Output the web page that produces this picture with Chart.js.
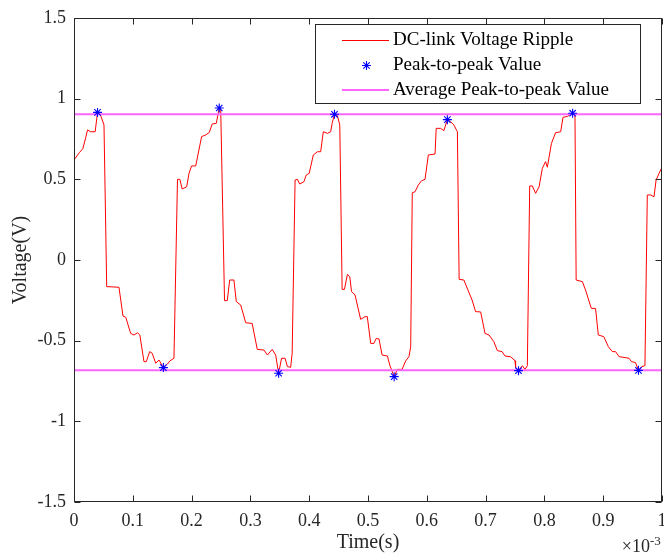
<!DOCTYPE html>
<html>
<head>
<meta charset="utf-8">
<script src="https://cdn.jsdelivr.net/npm/chart.js@4.4.1/dist/chart.umd.min.js"></script>
<style>
  html, body { margin: 0; padding: 0; background: #ffffff; }
  #wrap { width: 664px; height: 553px; position: relative; }
</style>
</head>
<body>
<div id="wrap"><canvas id="c"></canvas></div>
<script>
// ---- data (time in units of 1e-3 s, voltage in V) ----
const timeMs = [
  0.000, 0.005, 0.009, 0.015, 0.020, 0.023, 0.028, 0.036, 0.040, 0.045, 0.051,
  0.0556, 0.0765, 0.0833, 0.088, 0.0964, 0.102, 0.108, 0.112, 0.119, 0.123,
  0.1287, 0.133, 0.139, 0.1446, 0.152, 0.159, 0.163, 0.170, 0.176, 0.180,
  0.184, 0.1916, 0.1956, 0.200, 0.207, 0.217, 0.224, 0.230, 0.235, 0.242,
  0.247, 0.2495, 0.256, 0.2607, 0.2648, 0.272, 0.276, 0.2835, 0.292, 0.303,
  0.3117, 0.323, 0.329, 0.337, 0.343, 0.348, 0.353, 0.359, 0.363, 0.3685,
  0.371, 0.376, 0.380, 0.3838, 0.391, 0.395, 0.400, 0.407, 0.414, 0.4195,
  0.424, 0.431, 0.4365, 0.439, 0.443, 0.448, 0.452, 0.456, 0.460, 0.465,
  0.469, 0.472, 0.478, 0.4875, 0.495, 0.4988, 0.5046, 0.510, 0.514, 0.5187,
  0.524, 0.533, 0.537, 0.5445, 0.550, 0.558, 0.564, 0.5697, 0.5726, 0.5753,
  0.580, 0.5856, 0.591, 0.597, 0.6026, 0.614, 0.616, 0.6235, 0.629, 0.635,
  0.6406, 0.646, 0.652, 0.655, 0.663, 0.677, 0.683, 0.6916, 0.699, 0.7058,
  0.714, 0.720, 0.728, 0.733, 0.7426, 0.750, 0.751, 0.756, 0.7625, 0.767,
  0.771, 0.775, 0.7795, 0.785, 0.791, 0.7965, 0.802, 0.805, 0.812, 0.819,
  0.8277, 0.8316, 0.839, 0.8475, 0.852, 0.854, 0.8645, 0.870, 0.8798, 0.887,
  0.8917, 0.901, 0.9087, 0.9155, 0.921, 0.927, 0.944, 0.948, 0.955, 0.960,
  0.9655, 0.971, 0.975, 0.9807, 0.9864, 0.990, 0.995, 1.000
];
const voltage = [
  0.620, 0.645, 0.665, 0.690, 0.760, 0.806, 0.795, 0.795, 0.915, 0.899, 0.837,
  -0.165, -0.169, -0.347, -0.355, -0.455, -0.465, -0.451, -0.465, -0.630, -0.630,
  -0.568, -0.578, -0.640, -0.620, -0.667, -0.645, -0.626, -0.609, 0.500, 0.500,
  0.440, 0.454, 0.537, 0.583, 0.583, 0.765, 0.775, 0.790, 0.843, 0.847,
  0.942, 0.935, -0.252, -0.252, -0.124, -0.124, -0.258, -0.279, -0.389, -0.393,
  -0.554, -0.558, -0.589, -0.554, -0.589, -0.702, -0.609, -0.609, -0.661, -0.665,
  -0.578, 0.496, 0.500, 0.471, 0.485, 0.527, 0.537, 0.651, 0.671, 0.671,
  0.795, 0.785, 0.795, 0.847, 0.903, 0.895, 0.837, -0.182, -0.182, -0.089,
  -0.103, -0.196, -0.217, -0.368, -0.351, -0.351, -0.517, -0.517, -0.486, -0.490,
  -0.589, -0.595, -0.651, -0.723, -0.678, -0.678, -0.626, -0.599, -0.537, 0.417,
  0.423, 0.465, 0.491, 0.500, 0.651, 0.657, 0.816, 0.816, 0.802, 0.870,
  0.857, 0.837, 0.795, -0.120, -0.124, -0.248, -0.320, -0.322, -0.455, -0.465,
  -0.506, -0.562, -0.568, -0.595, -0.600, -0.624, -0.665, -0.686, -0.655, -0.678,
  -0.655, 0.459, 0.459, 0.413, 0.454, 0.568, 0.610, 0.575, 0.723, 0.789,
  0.795, 0.884, 0.890, 0.910, 0.900, -0.124, -0.134, -0.186, -0.300, -0.300,
  -0.465, -0.475, -0.537, -0.568, -0.568, -0.599, -0.609, -0.630, -0.636, -0.684,
  -0.661, -0.655, 0.403, 0.403, 0.392, 0.496, 0.537, 0.575
];
const peakTimes = [0.040, 0.152, 0.247, 0.348, 0.443, 0.5445, 0.635, 0.756, 0.848, 0.960];
const peakValues = [0.915, -0.667, 0.942, -0.702, 0.903, -0.723, 0.870, -0.686, 0.910, -0.684];
const avgLevels = [0.904, -0.683];
const xRange = [0, 1];
const xTicks = [0, 0.1, 0.2, 0.3, 0.4, 0.5, 0.6, 0.7, 0.8, 0.9, 1];
const xTickLabels = ['0', '0.1', '0.2', '0.3', '0.4', '0.5', '0.6', '0.7', '0.8', '0.9', '1'];
const yTicks = [-1.5, -1, -0.5, 0, 0.5, 1, 1.5];
const yTickLabels = ['-1.5', '-1', '-0.5', '0', '0.5', '1', '1.5'];
const legendLabels = ['DC-link Voltage Ripple', 'Peak-to-peak Value', 'Average Peak-to-peak Value'];

// ---- styles ----
const SERIF = "'Liberation Serif', 'Times New Roman', Times, serif";
const TXT = '#262626';
const RED = '#ff0000';
const BLUE = '#0000ff';
const PINK = '#ff66ff';

const ripple = timeMs.map((t, i) => ({ x: t, y: voltage[i] }));
const peaks = peakTimes.map((t, i) => ({ x: t, y: peakValues[i] }));

const datasets = [
  { label: legendLabels[1], type: 'scatter', data: peaks, showLine: false,
    pointStyle: 'star', pointRadius: 4.5, pointBorderColor: BLUE, pointBackgroundColor: BLUE,
    pointBorderWidth: 1.1, borderColor: BLUE, backgroundColor: BLUE },
  ...avgLevels.map(v => ({
    label: legendLabels[2], type: 'line', data: xRange.map(x => ({ x, y: v })),
    borderColor: PINK, borderWidth: 2, pointRadius: 0, fill: false, tension: 0
  })),
  { label: legendLabels[0], type: 'line', data: ripple, borderColor: RED, borderWidth: 1,
    pointRadius: 0, fill: false, tension: 0 }
];

const framePlugin = {
  id: 'frame',
  afterDraw(chart) {
    const { ctx, chartArea: a, scales } = chart;
    const xs = scales.x, ys = scales.y;
    ctx.save();
    ctx.strokeStyle = TXT;
    ctx.lineWidth = 1;
    const L = Math.round(a.left) + 0.5, R = Math.round(a.right) - 0.5;
    const T = Math.round(a.top) + 0.5, B = Math.round(a.bottom) - 0.5;
    ctx.strokeRect(L, T, R - L, B - T);
    const tl = 6;
    ctx.beginPath();
    xTicks.forEach(v => {
      const px = Math.round(xs.getPixelForValue(v)) + 0.5;
      ctx.moveTo(px, B); ctx.lineTo(px, B - tl);
      ctx.moveTo(px, T); ctx.lineTo(px, T + tl);
    });
    yTicks.forEach(v => {
      const py = Math.round(ys.getPixelForValue(v)) + 0.5;
      ctx.moveTo(L, py); ctx.lineTo(L + tl, py);
      ctx.moveTo(R, py); ctx.lineTo(R - tl, py);
    });
    ctx.stroke();

    // legend
    const lx = 315.5, ly = 24.5, lw = 325, lh = 79;
    ctx.fillStyle = '#ffffff';
    ctx.fillRect(lx, ly, lw, lh);
    ctx.strokeStyle = '#262626';
    ctx.strokeRect(lx, ly, lw, lh);
    const rows = [40, 65.5, 90];
    ctx.font = '19px ' + SERIF;
    ctx.textBaseline = 'middle';
    ctx.textAlign = 'left';
    ctx.fillStyle = '#000000';
    // ripple sample
    ctx.strokeStyle = datasets[3].borderColor; ctx.lineWidth = 1;
    ctx.beginPath(); ctx.moveTo(342, rows[0] + 0.5); ctx.lineTo(389, rows[0] + 0.5); ctx.stroke();
    // star sample
    const r = 4.5, sx = 366.5, sy = rows[1];
    ctx.strokeStyle = BLUE; ctx.lineWidth = 1.1;
    ctx.beginPath();
    ctx.moveTo(sx - r, sy); ctx.lineTo(sx + r, sy);
    ctx.moveTo(sx, sy - r); ctx.lineTo(sx, sy + r);
    const d = r * Math.SQRT1_2;
    ctx.moveTo(sx - d, sy - d); ctx.lineTo(sx + d, sy + d);
    ctx.moveTo(sx - d, sy + d); ctx.lineTo(sx + d, sy - d);
    ctx.stroke();
    // avg sample
    ctx.strokeStyle = PINK; ctx.lineWidth = 2;
    ctx.beginPath(); ctx.moveTo(342, rows[2]); ctx.lineTo(389, rows[2]); ctx.stroke();
    ctx.fillStyle = '#000000';
    legendLabels.forEach((s, i) => ctx.fillText(s, 393, rows[i]));

    // exponent label
    ctx.fillStyle = TXT;
    ctx.textBaseline = 'alphabetic';
    ctx.textAlign = 'right';
    ctx.font = '18px ' + SERIF;
    ctx.fillText('\u00d710', 650, 552);
    ctx.textAlign = 'left';
    ctx.font = '13px ' + SERIF;
    ctx.fillText('-3', 650, 545);
    ctx.restore();
  }
};

new Chart(document.getElementById('c'), {
  type: 'scatter',
  data: { datasets },
  options: {
    responsive: true,
    maintainAspectRatio: false,
    animation: false,
    layout: { autoPadding: false, padding: { left: 0, right: 2, top: 18, bottom: 0 } },
    plugins: { legend: { display: false }, tooltip: { enabled: false } },
    scales: {
      x: {
        type: 'linear', min: xRange[0], max: xRange[1],
        grid: { display: false, drawTicks: false },
        border: { display: false },
        afterBuildTicks: s => { s.ticks = xTicks.map(v => ({ value: v })); },
        afterFit: s => { s.height = 51; s.paddingLeft = 0; s.paddingRight = 0; },
        ticks: {
          autoSkip: false, maxRotation: 0, padding: 8, color: TXT,
          font: { family: SERIF, size: 18 },
          callback: (v) => { const i = xTicks.indexOf(v); return i >= 0 ? xTickLabels[i] : ''; }
        },
        title: { display: true, text: 'Time(s)', color: TXT, padding: { top: 0, bottom: 0 },
          font: { family: SERIF, size: 20, lineHeight: 1 } }
      },
      y: {
        type: 'linear', min: yTicks[0], max: yTicks[yTicks.length - 1],
        grid: { display: false, drawTicks: false },
        border: { display: false },
        afterBuildTicks: s => { s.ticks = yTicks.map(v => ({ value: v })); },
        afterFit: s => { s.width = 74; s.paddingTop = 0; s.paddingBottom = 0; },
        ticks: {
          autoSkip: false, padding: 8, color: TXT,
          font: { family: SERIF, size: 18 },
          callback: (v) => { const i = yTicks.indexOf(v); return i >= 0 ? yTickLabels[i] : ''; }
        },
        title: { display: true, text: 'Voltage(V)', color: TXT, padding: { top: 11, bottom: 0 },
          font: { family: SERIF, size: 20, lineHeight: 1 } }
      }
    }
  },
  plugins: [framePlugin]
});
</script>
</body>
</html>
